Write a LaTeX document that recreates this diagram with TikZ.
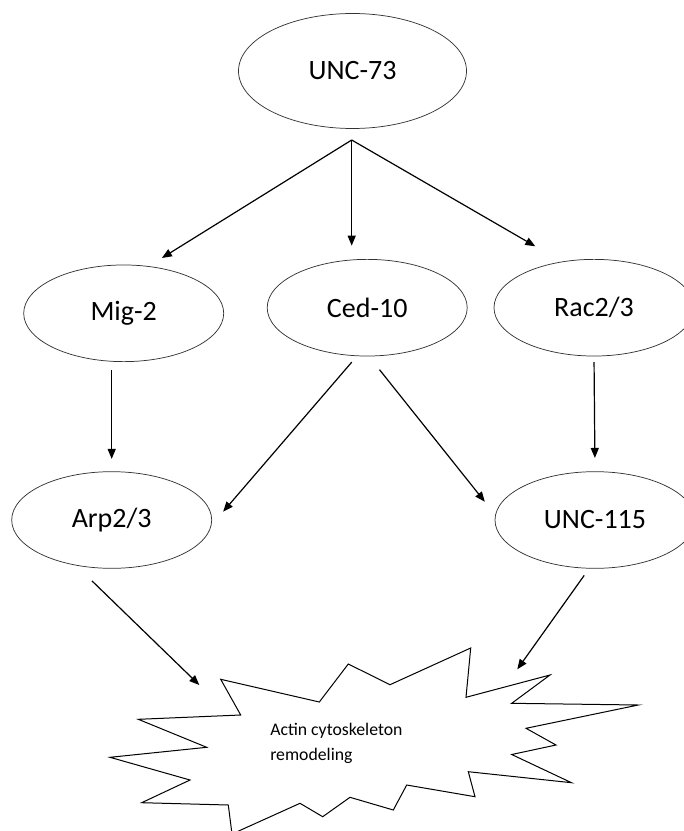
\documentclass[tikz,border=0pt]{standalone}
\usepackage{fontspec}
\setmainfont{Carlito}
\usetikzlibrary{shapes.geometric,arrows.meta}

\begin{document}
\begin{tikzpicture}[x=0.75pt, y=-0.75pt,
    >={Triangle[length=7.5pt,width=6pt]},
    bubble/.style={draw=black!80, line width=0.55pt, ellipse, inner sep=0pt,
        minimum width=150pt, minimum height=72.5pt,
        font=\fontsize{21}{25}\selectfont},
    link/.style={->, line width=0.9pt}]
    \useasboundingbox (0,0) rectangle (684,831);
    \clip (0,0) rectangle (684,831);
    % proteins
    \node [bubble, minimum width=171pt, minimum height=86.25pt] (unc73) at (352.5,71) {UNC-73};
    \node [bubble] (mig)    at (123.7,313.3) {Mig-2};
    \node [bubble] (ced)    at (367.2,307.7) {Ced-10};
    \node [bubble] (rac)    at (594,307.7)   {Rac2/3};
    \node [bubble] (arp)    at (111.7,520)   {Arp2/3};
    \node [bubble] (unc115) at (595,520)     {UNC-115};
    % starburst
    \draw [line width=0.75pt] (220.7,679.3) -- (319.3,702) -- (348.3,664) -- (390,684.7)
        -- (470.7,648) -- (466,697.3) -- (550,675) -- (511.7,703.3) -- (638.3,705)
        -- (526,728.3) -- (556,745) -- (511.7,754.5) -- (571.5,782.7) -- (468.3,771.7)
        -- (475,796.7) -- (406.7,785) -- (393.3,810) -- (350,797.3) -- (322.7,816.7)
        -- (300,803.3) -- (232,834) -- (228.3,805) -- (141.7,802.7) -- (190,780)
        -- (110,757.3) -- (206.7,747.3) -- (138.3,719.3) -- (240.7,715) -- cycle;
    \node [anchor=west, align=left, inner sep=0pt,
        font=\fontsize{13.3}{18.75}\selectfont] (actin) at (270,743) {Actin cytoskeleton\\remodeling};
    \coordinate (split)   at (351.7,140);
    \coordinate (arptip)  at (199.3,685);
    \coordinate (unctip)  at (517.3,669.3);
    % arrows
    \draw [link, shorten >=11.6pt] (split) -- (mig.62);
    \draw [link, shorten >=10pt]   (split) -- (split |- ced.north);
    \draw [link, shorten >=22.9pt] (split) -- (rac.125.5);
    \draw [link, shorten <=6pt, shorten >=9.3pt] (mig.south -| arp.north) -- (arp.north);
    \draw [link, shorten <=5.9pt, shorten >=13.4pt] (ced.-102) -- (arp.-3);
    \draw [link, shorten <=12.7pt, shorten >=12.5pt] (ced.-88) -- (unc115.177.6);
    \draw [link, shorten <=4.3pt, shorten >=10pt] (rac.south) -- (unc115.north);
    \draw [link, shorten <=16.5pt] (arp.232.5) -- (arptip);
    \draw [link, shorten <=6.2pt] (unc115.-97) -- (unctip);
\end{tikzpicture}
\end{document}
